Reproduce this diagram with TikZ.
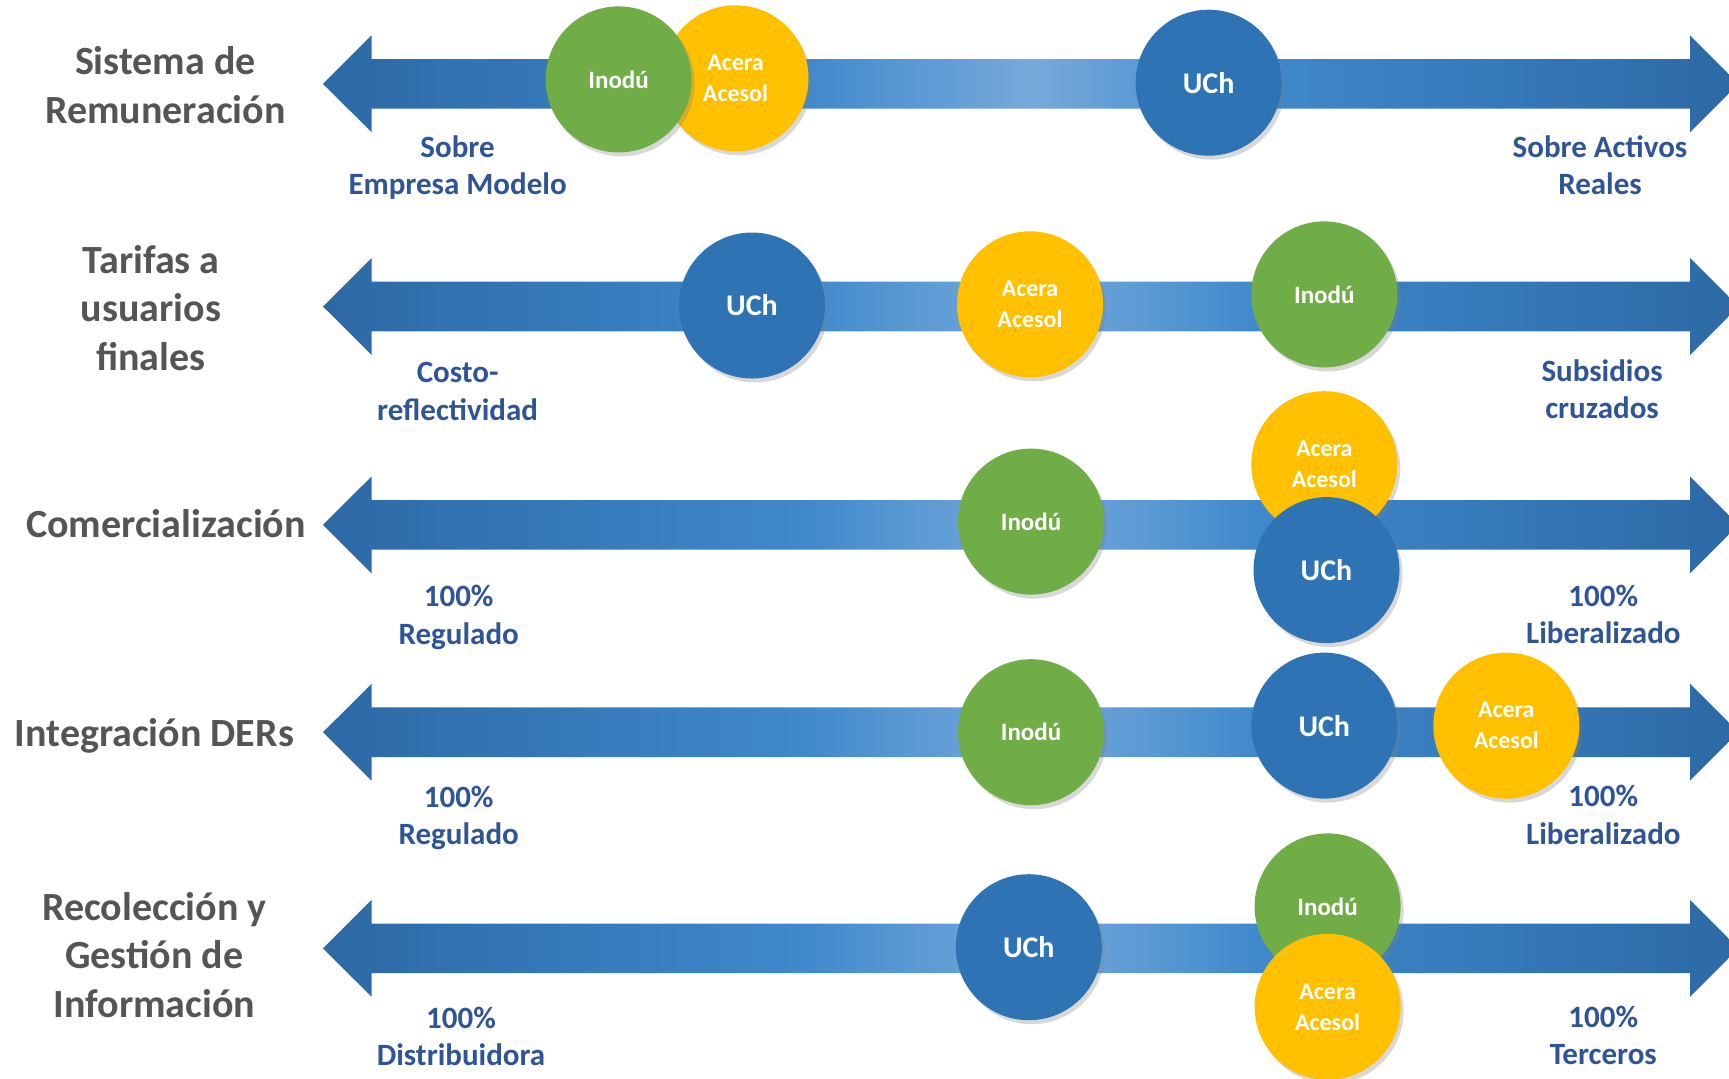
\documentclass[tikz,border=0pt]{standalone}
\usepackage{fontspec}
\setmainfont{Carlito}
\usetikzlibrary{shadows}
\definecolor{arrdk}{HTML}{2C69A5}
\definecolor{arrmd}{HTML}{3F89CC}
\definecolor{arrlt}{HTML}{76AADB}
\definecolor{cgreen}{HTML}{70AD47}
\definecolor{cyellow}{HTML}{FFC000}
\definecolor{cblue}{HTML}{2E74B5}
\definecolor{titlegray}{HTML}{555555}
\definecolor{endblue}{HTML}{2F5597}
\pgfdeclarehorizontalshading{arrowshade}{100bp}{color(0bp)=(arrdk); color(25bp)=(arrdk); color(42bp)=(arrmd); color(50bp)=(arrlt); color(58bp)=(arrmd); color(75bp)=(arrdk); color(100bp)=(arrdk)}
\newcommand\arrowrow[1]{%
  \begin{scope}[shift={(0,#1)}]
    \shade[shading=arrowshade] (323,0) -- (371.6,-48.5) -- (371.6,-24.8) -- (1690,-24.8) -- (1690,-48.5) -- (1738.5,0) -- (1690,48.5) -- (1690,24.8) -- (371.6,24.8) -- (371.6,48.5) -- cycle;
  \end{scope}}
\tikzset{
  disc/.style={circle, minimum size=73pt, inner sep=0pt, text=white, align=center,
    drop shadow={shadow xshift=1.5pt, shadow yshift=-2pt, opacity=0.3}},
  inodu/.style={disc, fill=cgreen, font=\bfseries\fontsize{12.5}{15.5}\selectfont},
  acera/.style={disc, fill=cyellow, font=\bfseries\fontsize{12}{15.5}\selectfont},
  uch/.style={disc, fill=cblue, font=\bfseries\fontsize{15}{18}\selectfont},
  rowtitle/.style={text=titlegray, align=center, inner sep=0pt, font=\bfseries\fontsize{20}{24.25}\selectfont},
  endlabel/.style={text=endblue, align=center, inner sep=0pt, font=\bfseries\fontsize{15.5}{18.75}\selectfont}
}
\begin{document}
\begin{tikzpicture}[x=0.5pt,y=-0.5pt]
\useasboundingbox (0,0) rectangle (1729,1078);
\clip (0,0) rectangle (1729,1078);
\fill[white] (0,0) rectangle (1729,1078);

% Row 1
\arrowrow{83.8}
\node[rowtitle] (t1) at (165.4,84.9) {Sistema de\\Remuneración};
\node[endlabel] (l1) at (457.6,167.5) {Sobre\\Empresa Modelo};
\node[endlabel] (r1) at (1600,165.4) {Sobre Activos\\Reales};
\node[acera] (a1) at (735.5,78.3) {Acera\\Acesol};
\node[inodu] (i1) at (618.6,79.4) {Inodú};
\node[uch] (u1) at (1208.6,82.7) {UCh};

% Row 2
\arrowrow{306.5}
\node[rowtitle] (t2) at (151,307.6) {Tarifas a\\usuarios\\finales};
\node[endlabel] (l2) at (457.6,391.5) {Costo-\\reflectividad};
\node[endlabel] (r2) at (1602,389.3) {Subsidios\\cruzados};
\node[uch] (u2) at (752,305.5) {UCh};
\node[acera] (a2) at (1030,304.3) {Acera\\Acesol};
\node[inodu] (i2) at (1324.3,294.4) {Inodú};

% Row 3
\arrowrow{524.9}
\node[rowtitle] (t3) at (166,523.8) {Comercialización};
\node[endlabel] (l3) at (458.7,617.2) {100\%\\Regulado};
\node[endlabel] (r3) at (1603.3,614.2) {100\%\\Liberalizado};
\node[inodu] (i3) at (1031,521.6) {Inodú};
\node[acera] (a3) at (1324.3,464.2) {Acera\\Acesol};
\node[uch] (u3) at (1326.5,570.1) {UCh};

% Row 4
\arrowrow{732.2}
\node[rowtitle] (t4) at (154.4,735.5) {Integración DERs};
\node[endlabel] (l4) at (458.7,818) {100\%\\Regulado};
\node[endlabel] (r4) at (1603.3,815) {100\%\\Liberalizado};
\node[inodu] (i4) at (1031,732.2) {Inodú};
\node[uch] (u4) at (1324.3,725.6) {UCh};
\node[acera] (a4) at (1506.3,725.6) {Acera\\Acesol};

% Row 5
\arrowrow{948.3}
\node[rowtitle] (t5) at (154.4,955) {Recolección y\\Gestión de\\Información};
\node[endlabel] (l5) at (461,1036.5) {100\%\\Distribuidora};
\node[endlabel] (r5) at (1603.3,1035.4) {100\%\\Terceros};
\node[uch] (u5) at (1028.8,947.2) {UCh};
\node[inodu] (i5) at (1327.6,906.4) {Inodú};
\node[acera] (a5) at (1327.6,1006.8) {Acera\\Acesol};
\end{tikzpicture}
\end{document}
